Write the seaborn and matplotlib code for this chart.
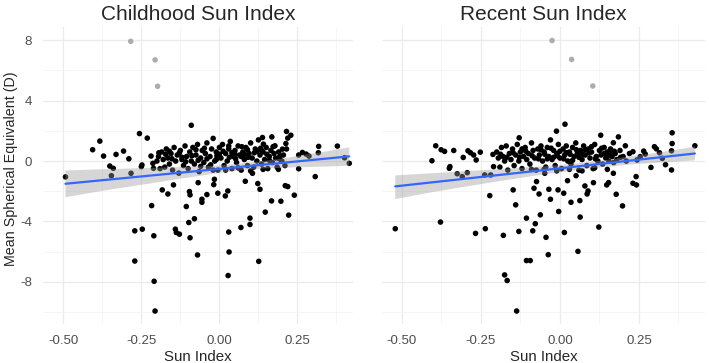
import numpy as np
import pandas as pd
import matplotlib.pyplot as plt
import seaborn as sns

# ---- data (sun index, mean spherical equivalent) ----
childhood_pts = [
    # sparse points
    (-0.493, -1.05), (-0.406, 0.75), (-0.383, 1.32), (-0.371, 0.33), (-0.351, -0.33),
    (-0.340, -0.48), (-0.346, -0.97), (-0.331, 0.44), (-0.307, 0.66), (-0.290, 0.15),
    (-0.283, -0.81), (-0.271, -6.62), (-0.271, -4.62), (-0.256, 1.82), (-0.247, -4.51),
    (-0.248, -0.26), (-0.250, -0.37), (-0.231, 1.52), (-0.217, -2.95), (-0.219, 0.33),
    (-0.213, -0.15), (-0.210, -4.95), (-0.209, -7.96), (-0.206, -9.93), (-0.211, -0.48),
    (-0.194, 0.55), (-0.183, -1.91), (-0.165, -2.18), (-0.147, -1.58), (-0.141, -4.51),
    (-0.138, -4.73), (-0.128, -4.84), (-0.106, -3.01), (-0.098, -4.07), (-0.096, -2.02),
    (-0.094, -5.08), (-0.090, 2.37), (-0.094, -2.24), (-0.080, -3.82), (-0.070, -6.22),
    (-0.068, -1.43), (-0.056, -2.53), (-0.056, -2.73), (-0.040, -2.22), (-0.018, -1.56),
    (-0.016, -1.21), (-0.005, -2.13), (0.019, -2.31), (0.027, -1.98), (0.030, -4.70),
    (0.031, -6.02), (0.028, -7.58), (0.069, -4.40), (0.083, -1.34), (0.098, -3.78),
    (0.098, -4.20), (0.106, -0.81), (0.123, -1.49), (0.126, -6.64), (0.130, -1.87),
    (0.147, -3.38), (0.167, -2.64), (0.197, -2.66), (0.211, -1.63), (0.219, -1.69),
    (0.222, -3.58), (0.240, -2.26), (0.254, -0.51), (0.307, -1.03), (0.416, -0.15),
    (0.378, 0.99), (0.401, 0.22), (0.318, 0.97), (0.317, 0.55), (0.278, 0.46),
    (0.287, 0.33), (0.266, 0.57), (0.254, 0.40), (0.229, 1.71), (0.215, 1.96),
    (0.219, 1.52), (0.213, 1.16), (0.202, 0.79), (0.193, 0.29), (0.189, -0.55),
    (0.178, 1.01), (0.168, 1.60), (0.141, 1.12), (0.138, 1.56), (0.135, 0.70),
    # dense band
    (-0.195, 0.3), (-0.19, -0.5), (-0.185, 0.6), (-0.18, 0.1), (-0.175, -0.4),
    (-0.17, 0.8), (-0.165, 0.2), (-0.16, -0.2), (-0.155, 0.5), (-0.15, -0.6),
    (-0.145, 0.9), (-0.14, 0.0), (-0.135, 0.4), (-0.13, -0.8), (-0.125, 0.7),
    (-0.12, 0.1), (-0.115, -0.3), (-0.11, 1.0), (-0.105, 0.3), (-0.1, -0.5),
    (-0.095, 0.6), (-0.09, 0.0), (-0.085, 0.9), (-0.08, -0.2), (-0.075, 0.4),
    (-0.07, 1.1), (-0.065, -0.7), (-0.06, 0.2), (-0.055, 0.7), (-0.05, -0.1),
    (-0.045, 0.5), (-0.04, 1.2), (-0.035, -0.4), (-0.03, 0.3), (-0.025, 0.8),
    (-0.02, 1.5), (-0.015, 0.0), (-0.01, 0.6), (-0.005, -0.6), (0.0, 0.9),
    (0.005, 0.2), (0.01, 1.1), (0.015, -0.3), (0.02, 0.5), (0.025, 0.0),
    (0.03, 0.8), (0.035, 1.3), (0.04, -0.5), (0.045, 0.3), (0.05, 0.7),
    (0.055, -0.1), (0.06, 1.0), (0.065, 0.4), (0.07, -0.6), (0.075, 0.6),
    (0.08, 0.1), (0.085, 0.9), (0.09, -0.3), (0.095, 0.5), (0.1, 1.2),
    (0.105, 0.2), (0.11, -0.4), (0.115, 0.8), (0.12, 0.0), (0.125, 1.4),
    (0.13, 0.4), (0.135, -0.2), (0.14, 0.6), (0.145, 0.1), (0.15, 0.9),
    (0.155, -0.5), (0.16, 0.3), (0.165, 0.7), (0.17, -0.1), (0.175, 0.5),
    (0.18, 0.2), (0.185, -0.4), (0.19, 0.6), (0.2, 0.0), (0.205, 0.4),
    (0.21, -0.3), (0.215, 0.8),
    (-0.2, 0.0), (-0.172, 0.45), (-0.152, 0.15), (-0.128, 0.55), (-0.108, -0.05),
    (-0.088, 0.35), (-0.068, 0.05), (-0.048, 0.85), (-0.028, -0.25), (-0.008, 0.35),
    (0.012, 0.65), (0.032, 0.25), (0.052, 0.15), (0.072, 0.95), (0.092, 0.25),
    (0.112, 0.55), (0.132, 0.85), (0.152, 0.45), (0.172, 0.95), (0.192, 0.15),
    (-0.06, -0.35), (-0.02, -0.6), (0.02, -0.6), (0.06, -0.45), (0.1, -0.65),
    (0.14, -0.55), (0.04, 0.55), (0.0, 0.45), (-0.04, 0.15), (0.08, 0.45),
    (0.12, 0.65), (0.16, 0.05), (-0.12, 0.25), (-0.16, 0.65), (0.03, 1.0),
    (0.07, 0.3), (-0.01, 0.1), (0.05, 0.45), (0.09, 0.75), (-0.075, 0.75),
]
childhood_outliers = [(-0.284, 7.93), (-0.206, 6.70), (-0.198, 4.95)]

recent_pts = [
    # sparse points
    (-0.521, -4.48), (-0.405, 0.02), (-0.393, 1.01), (-0.378, -4.04), (-0.376, 0.75),
    (-0.365, 0.64), (-0.350, -0.48), (-0.348, -0.37), (-0.336, 0.70), (-0.325, -0.84),
    (-0.309, -1.03), (-0.306, 0.24), (-0.293, -0.77), (-0.291, 0.68), (-0.283, 0.55),
    (-0.273, 0.40), (-0.267, -4.79), (-0.265, 0.07), (-0.252, 0.59), (-0.238, -0.92),
    (-0.236, -4.48), (-0.222, -2.29), (-0.219, -0.92), (-0.212, 0.44), (-0.210, -0.37),
    (-0.179, -4.92), (-0.175, -7.54), (-0.167, -7.91), (-0.148, -1.91), (-0.140, -2.90),
    (-0.137, -9.93), (-0.130, -4.66), (-0.129, 1.54), (-0.106, -3.78), (-0.106, -6.59),
    (-0.094, -6.59), (-0.086, -4.62), (-0.078, -4.15), (-0.082, -1.80), (-0.074, -1.36),
    (-0.066, -2.18), (-0.062, -3.56), (-0.048, -0.81), (-0.044, -5.05), (-0.037, -6.20),
    (-0.035, -1.87), (-0.030, -2.53), (-0.011, 1.98), (-0.006, -1.91), (-0.004, -3.34),
    (0.012, -2.13), (0.014, -4.73), (0.016, 2.44), (0.024, -1.30), (0.035, -2.73),
    (0.051, -0.97), (0.057, -5.98), (0.063, -2.62), (0.064, -3.71), (0.079, -1.65),
    (0.086, -2.18), (0.089, -1.98), (0.106, -1.43), (0.123, -4.37), (0.129, 1.71),
    (0.148, -1.58), (0.154, -1.43), (0.169, -0.81), (0.178, -2.20), (0.185, 1.60),
    (0.198, -2.97), (0.231, -1.47), (0.241, -1.03), (0.242, -1.58), (0.288, -0.42),
    (0.334, -0.24), (0.353, -0.59), (0.355, 1.87), (0.355, 1.16), (0.353, 0.68),
    (0.427, 1.01), (0.299, 0.95), (0.305, 0.81), (0.315, 0.55), (0.324, 0.18),
    (0.265, 0.66), (0.270, 0.46), (0.254, 0.29), (0.244, 0.07), (0.231, 0.62),
    (0.207, 1.01), (0.169, 1.21), (0.162, 0.51),
    # dense band
    (-0.2, 0.6), (-0.195, 0.2), (-0.19, -0.4), (-0.185, 0.9), (-0.18, 0.3),
    (-0.175, 0.0), (-0.17, 1.0), (-0.165, -0.6), (-0.16, 0.5), (-0.155, 0.1),
    (-0.15, 0.8), (-0.145, -0.3), (-0.14, 0.4), (-0.135, 1.1), (-0.13, 0.0),
    (-0.125, 0.6), (-0.12, -0.5), (-0.115, 0.3), (-0.11, 0.9), (-0.105, 0.1),
    (-0.1, 0.5), (-0.095, -0.2), (-0.09, 1.2), (-0.085, 0.7), (-0.08, 0.2),
    (-0.075, -0.6), (-0.07, 0.8), (-0.065, 0.4), (-0.06, 1.0), (-0.055, 0.0),
    (-0.05, 0.6), (-0.045, -0.4), (-0.04, 0.9), (-0.035, 0.3), (-0.03, 1.4),
    (-0.025, 0.1), (-0.02, 0.7), (-0.015, -0.3), (-0.01, 0.5), (-0.005, 1.1),
    (0.0, 0.2), (0.005, -0.5), (0.01, 0.8), (0.015, 0.4), (0.02, 1.0),
    (0.025, 0.0), (0.03, 0.6), (0.035, -0.2), (0.04, 0.9), (0.045, 0.3),
    (0.05, 1.2), (0.055, 0.5), (0.06, -0.6), (0.065, 0.7), (0.07, 0.1),
    (0.075, 1.0), (0.08, 0.4), (0.085, -0.3), (0.09, 0.8), (0.095, 0.2),
    (0.1, 0.6), (0.105, -0.5), (0.11, 1.1), (0.115, 0.3), (0.12, 0.0),
    (0.125, 0.7), (0.13, 0.4), (0.135, -0.2), (0.14, 0.9), (0.145, 0.2),
    (0.15, 0.6), (0.155, 0.0), (0.16, 0.8), (0.165, 0.3), (0.17, -0.1),
    (0.175, 0.5), (0.18, 0.1), (0.19, 0.7), (0.2, 0.3), (0.21, 0.0), (0.22, 0.5),
    (-0.188, 0.45), (-0.168, 0.25), (-0.148, 0.55), (-0.128, 0.25), (-0.108, 0.65),
    (-0.088, 0.35), (-0.068, 0.15), (-0.048, 0.45), (-0.028, 0.85), (-0.008, 0.35),
    (0.012, 0.15), (0.032, 0.45), (0.052, 0.75), (0.072, 0.45), (0.092, 0.55),
    (0.112, 0.15), (0.132, 0.85), (0.152, 0.35), (0.172, 0.65), (0.192, 0.25),
    (-0.05, -0.55), (-0.01, -0.65), (0.03, -0.55), (0.07, -0.65), (0.11, -0.45),
    (0.15, -0.55), (-0.09, -0.55), (-0.02, 0.25), (0.02, 0.55), (0.06, 0.25),
    (0.1, 0.95), (0.14, 0.5), (-0.06, 0.75), (-0.12, 0.8), (0.0, 0.65),
    (0.04, 0.05), (0.08, 0.75), (-0.04, 0.15),
]
recent_outliers = [(-0.025, 7.98), (0.037, 6.73), (0.104, 4.97)]

titles = ["Childhood Sun Index", "Recent Sun Index"]
x_ticks = [-0.50, -0.25, 0.00, 0.25]
x_minor = [-0.375, -0.125, 0.125, 0.375]
y_ticks = [-8, -4, 0, 4, 8]
y_minor = [-10, -6, -2, 2, 6]

# ---- style ----
sns.set_style("white")
plt.rcParams["font.family"] = ["Liberation Sans", "DejaVu Sans"]

fig = plt.figure(figsize=(7.09, 3.63), dpi=100)
ax_left = fig.add_axes([43 / 709, 0.107, 310 / 709, 0.8196])
ax_right = fig.add_axes([382 / 709, 0.107, 323 / 709, 0.8196])

panels = [
    (ax_left, childhood_pts, childhood_outliers, (-0.565, 0.428)),
    (ax_right, recent_pts, recent_outliers, (-0.563, 0.459)),
]

for i, (ax, pts, outl, xlim) in enumerate(panels):
    df = pd.DataFrame(pts, columns=["sun", "se"])
    df_out = pd.DataFrame(outl, columns=["sun", "se"])

    # grid first
    ax.set_xticks(x_ticks)
    ax.set_xticks(x_minor, minor=True)
    ax.set_yticks(y_ticks)
    ax.set_yticks(y_minor, minor=True)
    ax.grid(which="major", color="#EBEBEB", linewidth=0.9)
    ax.grid(which="minor", color="#F2F2F2", linewidth=0.5)
    ax.set_axisbelow(True)

    sns.scatterplot(data=df_out, x="sun", y="se", color="#ADADAD", s=16,
                    edgecolor="none", ax=ax, zorder=2)
    sns.scatterplot(data=df, x="sun", y="se", color="black", s=16,
                    edgecolor="none", ax=ax, zorder=2)
    n_before = len(ax.collections)
    sns.regplot(data=df, x="sun", y="se", scatter=False, ax=ax, ci=95,
                n_boot=500, seed=1, color="#999999",
                line_kws={"color": "#3366FF", "linewidth": 1.6, "zorder": 4})
    # ggplot-like grey confidence ribbon
    for coll in ax.collections[n_before:]:
        coll.set_facecolor("#999999")
        coll.set_edgecolor("none")
        coll.set_alpha(0.4)
        coll.set_zorder(3)

    ax.set_xlim(*xlim)
    ax.set_ylim(-10.8, 8.9)
    ax.set_xticklabels(["-0.50", "-0.25", "0.00", "0.25"])
    ax.tick_params(axis="both", which="both", length=0, labelsize=9.5,
                   labelcolor="#4D4D4D", pad=8)
    for sp in ax.spines.values():
        sp.set_visible(False)
    ax.set_title(titles[i], fontsize=15, pad=5)
    ax.set_xlabel("Sun Index", fontsize=10.8, labelpad=2)
    if i == 0:
        ax.set_yticklabels(["-8", "-4", "0", "4", "8"])
        ax.set_ylabel("Mean Spherical Equivalent (D)", fontsize=10.3)
        ax.yaxis.set_label_coords(-0.082, 0.521)
    else:
        ax.set_yticklabels([])
        ax.set_ylabel("")

fig.savefig("out.png", dpi=100)
